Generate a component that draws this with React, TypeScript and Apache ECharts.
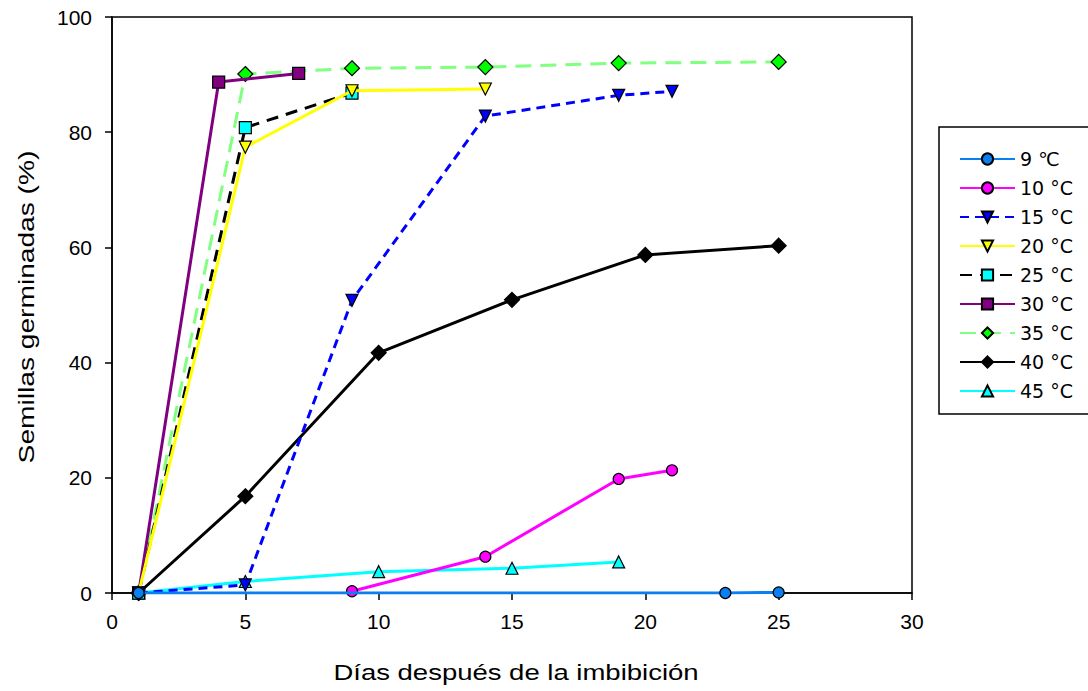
import React, { useEffect, useRef } from "react";
import * as echarts from "echarts";

const seriesNames = ["9 ℃", "10 °C", "15 °C", "20 °C", "25 °C", "30 °C", "35 °C", "40 °C", "45 °C"];

const days9 = [1, 23, 25];
const vals9 = [0, 0, 0.1];
const days10 = [9, 14, 19, 21];
const vals10 = [0.3, 6.3, 19.8, 21.3];
const days15 = [1, 5, 9, 14, 19, 21];
const vals15 = [0, 1.4, 50.8, 82.8, 86.4, 87.1];
const days20 = [1, 5, 9, 14];
const vals20 = [0, 77.4, 87.2, 87.5];
const days25 = [1, 5, 9];
const vals25 = [0, 80.8, 86.8];
const days30 = [1, 4, 7];
const vals30 = [0, 88.7, 90.2];
const days35 = [1, 5, 9, 14, 19, 25];
const vals35 = [0, 90.1, 91.1, 91.3, 92.0, 92.2];
const days40 = [1, 5, 10, 15, 20, 25];
const vals40 = [0, 16.8, 41.7, 50.9, 58.7, 60.3];
const days45 = [1, 5, 10, 15, 19];
const vals45 = [0, 2.0, 3.7, 4.3, 5.4];

const xTicks = [0, 5, 10, 15, 20, 25, 30];
const yTicks = [0, 20, 40, 60, 80, 100];

const xTitle = "Días después de la imbibición";
const yTitle = "Semillas germinadas (%)";

const FONT = "'Liberation Sans', Arial, sans-serif";
const LEGEND_FONT = "'DejaVu Sans', sans-serif";

function pairs(xs: number[], ys: number[]) {
  return xs.map((x, i) => [x, ys[i]]);
}

type Sty = {
  line: string;
  fill: string;
  symbol: string;
  size: number;
  rotate?: number;
  dash?: number[] | "solid";
};

const styles: Sty[] = [
  { line: "#0A7FF0", fill: "#0A7FF0", symbol: "circle", size: 11 },
  { line: "#FF00FF", fill: "#FF00FF", symbol: "circle", size: 11 },
  { line: "#0000FF", fill: "#0000FF", symbol: "triangle", size: 12, rotate: 180, dash: [9, 6] },
  { line: "#FFFF00", fill: "#FFFF00", symbol: "triangle", size: 12, rotate: 180 },
  { line: "#000000", fill: "#00FFFF", symbol: "rect", size: 12, dash: [12, 8] },
  { line: "#800080", fill: "#800080", symbol: "rect", size: 12 },
  { line: "#80FF80", fill: "#00FF00", symbol: "diamond", size: 15, dash: [16, 9] },
  { line: "#000000", fill: "#000000", symbol: "diamond", size: 15 },
  { line: "#00FFFF", fill: "#00FFFF", symbol: "triangle", size: 12 },
];

const dataSets = [
  pairs(days9, vals9),
  pairs(days10, vals10),
  pairs(days15, vals15),
  pairs(days20, vals20),
  pairs(days25, vals25),
  pairs(days30, vals30),
  pairs(days35, vals35),
  pairs(days40, vals40),
  pairs(days45, vals45),
];

export default function App() {
  const ref = useRef<HTMLDivElement>(null);
  useEffect(() => {
    if (!ref.current) return;
    const chart = echarts.init(ref.current, null, { renderer: "svg" });
    const series = seriesNames.map((name, i) => {
      const s = styles[i];
      return {
        name,
        type: "line",
        data: dataSets[i],
        symbol: s.symbol,
        symbolSize: s.size,
        symbolRotate: s.rotate || 0,
        lineStyle: { color: s.line, width: 3, type: s.dash || "solid" },
        itemStyle: { color: s.fill, borderColor: "#000", borderWidth: 1.2 },
        z: 2 + (9 - i),
      };
    });
    chart.setOption({
      animation: false,
      backgroundColor: "#fff",
      textStyle: { fontFamily: FONT },
      grid: {
        left: 112,
        right: 176,
        top: 17,
        bottom: 98,
        show: true,
        borderColor: "#000",
        borderWidth: 1.5,
      },
      xAxis: {
        type: "value",
        min: xTicks[0],
        max: xTicks[xTicks.length - 1],
        interval: 5,
        axisLine: { lineStyle: { color: "#000", width: 1.5 } },
        axisTick: { length: 7, lineStyle: { color: "#000", width: 1.5 } },
        axisLabel: { fontSize: 21, color: "#000", margin: 18, fontFamily: FONT },
        splitLine: { show: false },
      },
      yAxis: {
        type: "value",
        min: yTicks[0],
        max: yTicks[yTicks.length - 1],
        interval: 20,
        axisLine: { show: true, lineStyle: { color: "#000", width: 1.5 } },
        axisTick: { show: true, length: 7, lineStyle: { color: "#000", width: 1.5 } },
        axisLabel: { fontSize: 21, color: "#000", margin: 20, fontFamily: FONT },
        splitLine: { show: false },
      },
      legend: {
        orient: "vertical",
        left: 954,
        top: 144,
        itemWidth: 55,
        itemHeight: 14,
        itemGap: 9,
        itemTextGap: 9,
        textStyle: { fontSize: 19, lineHeight: 20, color: "#000", fontFamily: LEGEND_FONT },
        data: seriesNames,
      },
      graphic: [
        {
          type: "rect",
          shape: { x: 939, y: 127, width: 160, height: 287 },
          style: { fill: "none", stroke: "#000", lineWidth: 1.5 },
          silent: true,
        },
        {
          type: "text",
          x: 516,
          y: 672,
          scaleX: 1.25,
          style: {
            text: xTitle,
            fontSize: 22,
            fontFamily: FONT,
            fill: "#000",
            align: "center",
            verticalAlign: "middle",
          },
          silent: true,
        },
        {
          type: "text",
          x: 26,
          y: 307,
          rotation: Math.PI / 2,
          scaleX: 1.28,
          style: {
            text: yTitle,
            fontSize: 22,
            fontFamily: FONT,
            fill: "#000",
            align: "center",
            verticalAlign: "middle",
          },
          silent: true,
        },
      ],
      series,
    });
    return () => chart.dispose();
  }, []);
  return (
    <div
      ref={ref}
      style={{ position: "fixed", left: 0, top: 0, width: 1088, height: 691, background: "#fff" }}
    />
  );
}
